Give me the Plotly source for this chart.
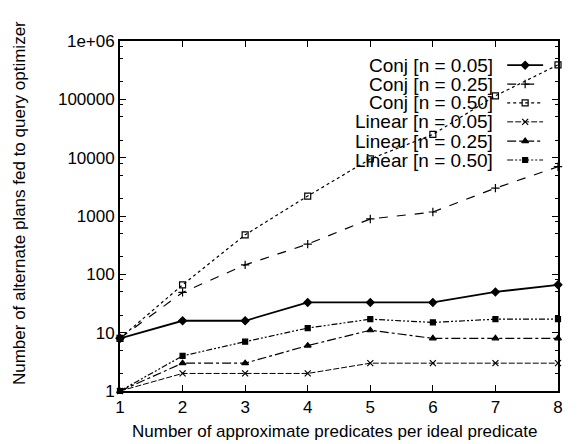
import plotly.graph_objects as go

x_vals = [1, 2, 3, 4, 5, 6, 7, 8]
conj_005 = [8, 16, 16, 33, 33, 33, 50, 66]
conj_025 = [8, 49, 145, 330, 890, 1170, 3000, 7000]
conj_050 = [8, 66, 475, 2200, 9500, 25000, 115000, 390000]
lin_005 = [1, 2, 2, 2, 3, 3, 3, 3]
lin_025 = [1, 3, 3, 6, 11, 8, 8, 8]
lin_050 = [1, 4, 7, 12, 17, 15, 17, 17]

series_names = ["Conj [n = 0.05]", "Conj [n = 0.25]", "Conj [n = 0.50]",
                "Linear [n = 0.05]", "Linear [n = 0.25]", "Linear [n = 0.50]"]
series_vals = [conj_005, conj_025, conj_050, lin_005, lin_025, lin_050]

y_tickvals = [1, 10, 100, 1000, 10000, 100000, 1000000]
y_ticktext = ["1", "10", "100", "1000", "10000", "100000", "1e+06"]
y_minor = [m * 10 ** k for k in range(6) for m in (2, 5, 8)]

styles = [
    dict(dash="solid", width=1.8, symbol="diamond", size=6),
    dict(dash="dash", width=1.2, symbol="cross-thin-open", size=6),
    dict(dash="dot", width=1.2, symbol="square-open", size=6),
    dict(dash="6px,2px", width=1.0, symbol="x-thin-open", size=6),
    dict(dash="dashdot", width=1.2, symbol="triangle-up", size=6),
    dict(dash="6px,2px,2px,2px,2px,2px", width=1.2, symbol="square", size=5),
]

FONT = "Liberation Sans, Arial, sans-serif"
fig = go.Figure()

for name, vals, st in zip(series_names, series_vals, styles):
    fig.add_trace(go.Scatter(
        x=x_vals, y=vals, mode="lines+markers", name=name, showlegend=False,
        line=dict(color="black", width=st["width"], dash=st["dash"]),
        marker=dict(symbol=st["symbol"], size=st["size"], color="black",
                    line=dict(color="black", width=1.2)),
        cliponaxis=False,
    ))

# manual legend (text left, sample right) on an overlay axis
leg_y = [0.931, 0.877, 0.823, 0.769, 0.714, 0.66]
for i, (name, st) in enumerate(zip(series_names, styles)):
    fig.add_trace(go.Scatter(
        x=[0.884, 0.966], y=[leg_y[i]] * 2, xaxis="x2", yaxis="y2",
        mode="lines", showlegend=False, hoverinfo="skip",
        line=dict(color="black", width=st["width"], dash=st["dash"]),
    ))
    fig.add_trace(go.Scatter(
        x=[0.925], y=[leg_y[i]], xaxis="x2", yaxis="y2",
        mode="markers", showlegend=False, hoverinfo="skip",
        marker=dict(symbol=st["symbol"], size=st["size"], color="black",
                    line=dict(color="black", width=1.2)),
    ))
    fig.add_annotation(x=0.857, y=leg_y[i], xref="x2", yref="y2", text=name,
                       showarrow=False, xanchor="right", yanchor="middle",
                       font=dict(family=FONT, size=19, color="black"))

fig.add_annotation(x=-0.2306, y=0.537, xref="paper", yref="paper", textangle=-90,
                   text="Number of alternate plans fed to query optimizer",
                   showarrow=False, xanchor="center", yanchor="middle",
                   font=dict(family=FONT, size=17, color="black"))
fig.add_annotation(x=0.49, y=-0.117, xref="paper", yref="paper",
                   text="Number of approximate predicates per ideal predicate",
                   showarrow=False, xanchor="center", yanchor="middle",
                   font=dict(family=FONT, size=17, color="black"))

# page body has an 8px default margin: compensate in size and margins
fig.update_layout(
    width=572, height=436,
    margin=dict(l=112, r=22, t=33, b=53),
    paper_bgcolor="white", plot_bgcolor="white",
    font=dict(family=FONT, size=17, color="black"),
    xaxis=dict(range=[1, 8], tickvals=x_vals, ticks="inside", ticklen=6,
               showgrid=False, zeroline=False, showline=True, linecolor="black",
               linewidth=1.8, mirror="ticks", tickcolor="black", tickwidth=1.2),
    yaxis=dict(type="log", range=[0, 6], tickvals=y_tickvals, ticktext=y_ticktext,
               ticks="inside", ticklen=6, showgrid=False, zeroline=False,
               showline=True, linecolor="black", linewidth=1.8, mirror="ticks",
               tickcolor="black", tickwidth=1.2,
               minor=dict(tickvals=y_minor, ticks="inside", ticklen=3,
                          tickcolor="black", showgrid=False)),
    xaxis2=dict(range=[0, 1], overlaying="x", visible=False, fixedrange=True),
    yaxis2=dict(range=[0, 1], overlaying="y", visible=False, fixedrange=True),
)

fig.write_html("out.html")
